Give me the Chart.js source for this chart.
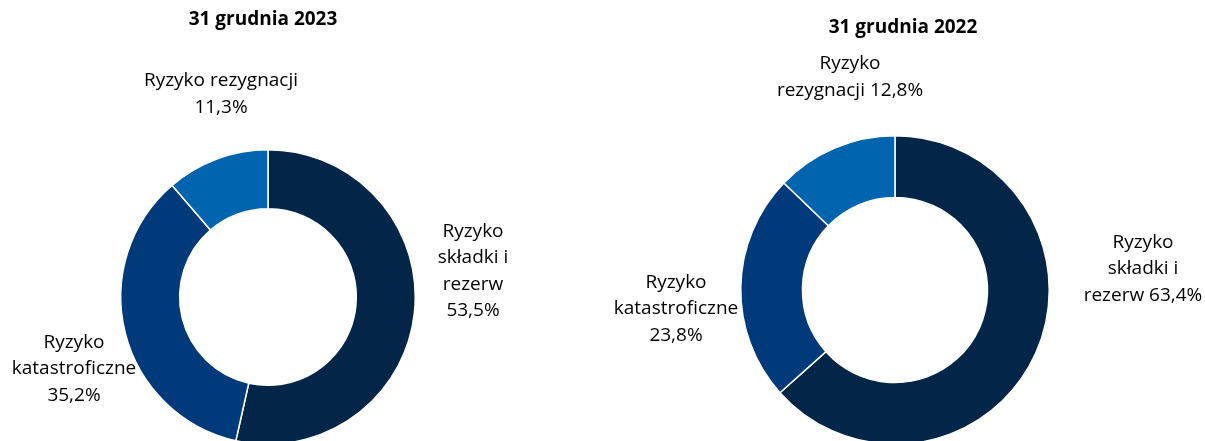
<!DOCTYPE html>
<html>
<head>
<meta charset="utf-8">
<script src="https://cdn.jsdelivr.net/npm/chart.js@4/dist/chart.umd.min.js"></script>
<style>
    html, body { margin: 0; padding: 0; background: #fff; overflow: hidden; }
    #wrap { position: relative; width: 1205px; height: 441px; overflow: hidden; }
    canvas { position: absolute; top: 0; }
</style>
</head>
<body>
<div id="wrap">
    <canvas id="chart2023" width="600" height="470" style="left:0;width:600px;height:470px"></canvas>
    <canvas id="chart2022" width="605" height="470" style="left:600px;width:605px;height:470px"></canvas>
</div>
<script>
// Data (percent shares)
const categories = ['Ryzyko składki i rezerw', 'Ryzyko katastroficzne', 'Ryzyko rezygnacji'];
const values2023 = [53.5, 35.2, 11.3];
const values2022 = [63.4, 23.8, 12.8];
const titles = ['31 grudnia 2023', '31 grudnia 2022'];

// How each label is broken into lines ({v} = value)
const labelLines2023 = [
    ['Ryzyko', 'składki i', 'rezerw', '{v}'],
    ['Ryzyko', 'katastroficzne', '{v}'],
    ['Ryzyko rezygnacji', '{v}']
];
const labelLines2022 = [
    ['Ryzyko', 'składki i', 'rezerw {v}'],
    ['Ryzyko', 'katastroficzne', '{v}'],
    ['Ryzyko', 'rezygnacji {v}']
];

const sliceColors = ['#022548', '#003a7b', '#0064ae'];
const FONT = '"Open Sans", "Noto Sans", sans-serif';

function fmt(v) {
    return v.toFixed(1).replace('.', ',') + '%';
}

// Draws the title and the slice labels relative to the doughnut centre
const labelPlugin = {
    id: 'sliceLabels',
    afterDraw(chart, args, opts) {
        const ctx = chart.ctx;
        const arc = chart.getDatasetMeta(0).data[0];
        if (!arc) return;
        const cx = arc.x, cy = arc.y;
        const values = chart.data.datasets[0].data;

        ctx.save();
        ctx.textAlign = 'center';
        ctx.textBaseline = 'middle';
        ctx.fillStyle = '#000';

        ctx.font = 'bold 19px ' + FONT;
        ctx.fillText(opts.title, cx + opts.titleOffset[0], cy + opts.titleOffset[1]);

        ctx.font = '19px ' + FONT;
        opts.lines.forEach((lines, i) => {
            const [dx, dy] = opts.offsets[i];
            const lh = 26.5;
            const top = cy + dy - (lines.length - 1) * lh / 2;
            lines.forEach((line, j) => {
                ctx.fillText(line.replace('{v}', fmt(values[i])), cx + dx, top + j * lh);
            });
        });
        ctx.restore();
    }
};

function makeDonut(id, values, title, lines, padding, offsets, titleOffset) {
    return new Chart(document.getElementById(id), {
        type: 'doughnut',
        data: {
            labels: categories,
            datasets: [{
                data: values,
                backgroundColor: sliceColors,
                borderColor: '#ffffff',
                borderWidth: 1.5
            }]
        },
        options: {
            responsive: false,
            animation: false,
            events: [],
            cutout: '60%',
            layout: { padding: padding },
            plugins: {
                legend: { display: false },
                tooltip: { enabled: false },
                sliceLabels: {
                    title: title,
                    titleOffset: titleOffset,
                    lines: lines,
                    offsets: offsets
                }
            }
        },
        plugins: [labelPlugin]
    });
}

makeDonut('chart2023', values2023, titles[0], labelLines2023,
    { left: 120, right: 184, top: 149, bottom: 25 },
    [[205, -26], [-194, 72], [-47, -203]],
    [-5, -277]);

makeDonut('chart2022', values2022, titles[1], labelLines2022,
    { left: 140, right: 155, top: 135, bottom: 25 },
    [[248, -21], [-219, 19], [-45, -213]],
    [8, -262]);
</script>
</body>
</html>
